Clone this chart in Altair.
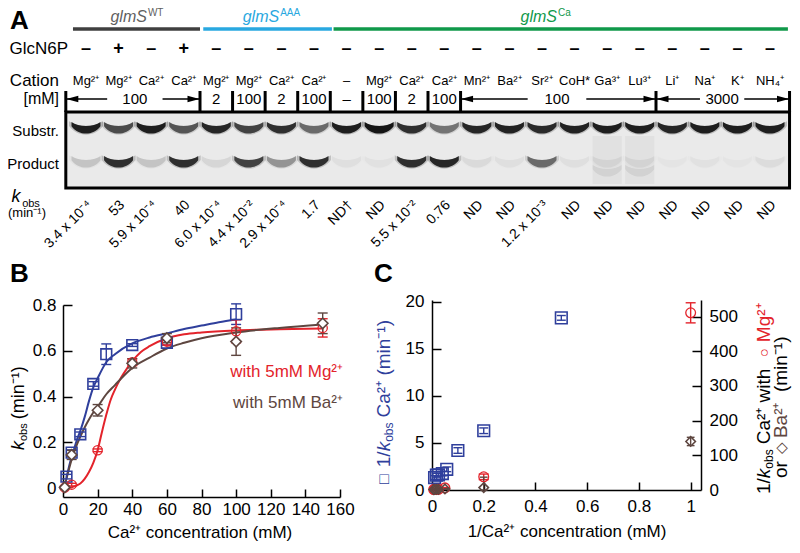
import altair as alt
import pandas as pd

W, H = 784, 537
FONT = "Liberation Sans"
BLUE = "#2f3f9c"
RED = "#e3232b"
BROWN = "#5e4640"
GREY_T = "#5f5f5f"
GREY_L = "#3f3f3f"
AAA = "#29a8e0"
GREEN = "#10994a"
NB = "\u00a0"

# ---------------- data : panel A (gel) ----------------
cations = ["Mg²⁺", "Mg²⁺", "Ca²⁺", "Ca²⁺", "Mg²⁺", "Mg²⁺", "Ca²⁺", "Ca²⁺", "–",
           "Mg²⁺", "Ca²⁺", "Ca²⁺", "Mn²⁺", "Ba²⁺", "Sr²⁺", "CoH*", "Ga³⁺", "Lu³⁺",
           "Li⁺", "Na⁺", "K⁺", "NH₄⁺"]
glcn6p = ["–", "+", "–", "+"] + ["–"] * 18
conc_lane = [4, 5, 6, 7, 8, 9, 10, 11]
conc_text = ["2", "100", "2", "100", "–", "100", "2", "100"]
span_text = ["100", "100", "3000"]
kobs = ["3.4 x 10⁻⁴", "53", "5.9 x 10⁻⁴", "40", "6.0 x 10⁻⁴", "4.4 x 10⁻²",
        "2.9 x 10⁻⁴", "1.7", "ND†", "ND", "5.5 x 10⁻²", "0.76", "ND", "ND",
        "1.2 x 10⁻³", "ND", "ND", "ND", "ND", "ND", "ND", "ND"]
substrate = [0.95, 0.7, 0.95, 0.65, 0.9, 0.75, 0.85, 0.55, 0.95, 1.0, 0.85,
             0.5, 0.9, 0.92, 0.88, 0.92, 0.95, 0.95, 0.9, 0.95, 0.95, 0.95]
product = [0.15, 0.85, 0.15, 0.85, 0.08, 0.75, 0.35, 0.85, 0.04, 0.03, 0.85,
           0.9, 0.06, 0.04, 0.55, 0.04, 0.05, 0.05, 0.02, 0.03, 0.02, 0.05]
smear_lane = [16, 17]
group_name = ["glmS", "glmS", "glmS"]
group_sup = ["WT", "AAA", "Ca"]

# ---------------- data : panel B ----------------
ca_blue = [2, 5, 10, 17.5, 25, 40, 60, 100]
k_blue = [0.05, 0.155, 0.235, 0.455, 0.585, 0.625, 0.635, 0.76]
e_blue = [0.01, 0.012, 0.01, 0.01, 0.045, 0.006, 0.01, 0.045]
ca_mg = [1, 5, 20, 40, 60, 100, 150]
k_mg = [0.002, 0.015, 0.165, 0.55, 0.64, 0.685, 0.70]
e_mg = [0.005, 0.006, 0.006, 0.015, 0.015, 0.05, 0.04]
ca_ba = [1, 5, 20, 40, 60, 100, 150]
k_ba = [0.003, 0.145, 0.34, 0.545, 0.655, 0.64, 0.72]
e_ba = [0.005, 0.02, 0.025, 0.02, 0.02, 0.06, 0.045]

fit_blue_x = [2, 4, 6, 8, 10, 12.5, 15, 17.5, 20, 25, 30, 40, 50, 60, 70, 80, 90, 100]
fit_blue_y = [0.045, 0.11, 0.16, 0.21, 0.25, 0.31, 0.38, 0.44, 0.48, 0.55, 0.585,
              0.632, 0.658, 0.676, 0.695, 0.71, 0.725, 0.737]
fit_mg_x = [1, 5, 8, 10, 12.5, 15, 17.5, 20, 22.5, 25, 27.5, 30, 33, 35, 40, 45, 50,
            60, 70, 80, 100, 125, 150]
fit_mg_y = [0.0, 0.004, 0.012, 0.02, 0.04, 0.07, 0.11, 0.165, 0.245, 0.32, 0.385,
            0.43, 0.475, 0.50, 0.555, 0.595, 0.62, 0.655, 0.672, 0.68, 0.689,
            0.694, 0.697]
fit_ba_x = [1, 3, 5, 7.5, 10, 12.5, 15, 17.5, 20, 25, 30, 35, 40, 50, 60, 70, 80,
            100, 125, 150]
fit_ba_y = [0.01, 0.07, 0.125, 0.18, 0.225, 0.265, 0.30, 0.33, 0.355, 0.41, 0.45,
            0.49, 0.525, 0.57, 0.61, 0.635, 0.655, 0.68, 0.70, 0.715]

# ---------------- data : panel C ----------------
cx_blue = [0.5, 0.2, 0.1, 0.057, 0.04, 0.025, 0.017, 0.01]
cy_blue = [18.3, 6.3, 4.2, 2.2, 1.75, 1.6, 1.57, 1.32]
ce_blue = [0.25, 0.3, 0.3, 0.25, 0.25, 0.2, 0.2, 0.2]
cx_mg = [1.0, 0.2, 0.05, 0.025, 0.017, 0.01, 0.0067]
cy_mg = [511, 38, 6.1, 1.8, 1.56, 1.46, 1.43]
ce_mg = [29, 8, 1, 0.5, 0.5, 0.5, 0.5]
cx_ba = [1.0, 0.2, 0.05, 0.025, 0.017, 0.01, 0.0067]
cy_ba = [140, 7, 2.9, 1.8, 1.5, 1.56, 1.39]
ce_ba = [12, 30, 1, 0.5, 0.5, 0.5, 0.5]

# ---------------- layout (chart pixels) ----------------
Y_GTITLE, Y_GSUP, Y_GLINE = 9, 5, 21
Y_GLC, Y_CAT, Y_CONC = 41, 73, 91
Y_SEP0, Y_SEP1 = 83, 104
Y_GEL0, Y_GEL1 = 104, 180
Y_SUB, Y_PROD, Y_KOBS = 119, 153, 195
GEL_X0, GEL_X1 = -0.62, 21.6
G_JOIN = [1.87, 5.93, 14.46]
G_FROM = [-0.4, 3.6, 7.6]
G_TO = [3.5, 7.55, 21.55]
G_LINE_COL = [GREY_L, AAA, GREEN]
G_TEXT_COL = [GREY_T, AAA, GREEN]
SPAN_START = [-0.62, 11.5, 17.5]
SPAN_END = [3.5, 17.5, 21.6]
SPAN_MID = [1.5, 14.46, 19.53]
SPAN_GAP = [0.85, 0.9, 0.68]
SEPARATORS = [-0.62, 3.5, 4.5, 5.5, 6.5, 7.5, 8.5, 9.5, 10.5, 11.5, 17.5, 21.6]

PX = alt.Scale(domain=[0, W], range=[0, W], nice=False, zero=False)
PY = alt.Scale(domain=[0, H], range=[0, H], nice=False, zero=False)
LX = alt.Scale(domain=[0, 21], range=[78, 762], nice=False, zero=False)
BX = alt.Scale(domain=[0, 160], range=[55, 332], nice=False, zero=False)
BY = alt.Scale(domain=[-0.039, 0.8], range=[489, 297], nice=False, zero=False)
CX = alt.Scale(domain=[0, 1.04], range=[424, 693], nice=False, zero=False)
CYL = alt.Scale(domain=[0, 20.2], range=[482, 292], nice=False, zero=False)
CYR = alt.Scale(domain=[0, 548], range=[482, 292], nice=False, zero=False)

BAND = "M-1,-0.34 C-0.5,0.02 0.5,0.02 1,-0.34 L1,-0.06 C0.5,0.62 -0.5,0.62 -1,-0.06 Z"
ARROW_L = "M-1,0 L1,-0.55 L1,0.55 Z"
ARROW_R = "M1,0 L-1,-0.55 L-1,0.55 Z"

CW = {' ': 0.278, NB: 0.278, '(': 0.333, ')': 0.333, '/': 0.278, 'k': 0.5, 'o': 0.556,
      'b': 0.556, 's': 0.5, 'C': 0.722, 'a': 0.556, 'm': 0.833, 'i': 0.222,
      'n': 0.556, 'w': 0.722, 't': 0.278, 'h': 0.556, 'M': 0.833, 'g': 0.556,
      'B': 0.667, 'r': 0.333, '²': 0.333, '¹': 0.333, '⁺': 0.55, '⁻': 0.55,
      '□': 0.8, '○': 0.8, '◇': 0.8}


def text_w(s, size):
    return sum(CW.get(ch, 0.556) for ch in s) * size


def TXT(xv, yv, tv, xs=PX, ys=PY, size=17, color="black", align="center",
        baseline="middle", angle=None, italic=False, bold=False):
    df = pd.DataFrame({"x": xv, "y": yv, "t": tv})
    kw = dict(font=FONT, fontSize=size, align=align, baseline=baseline)
    if italic:
        kw["fontStyle"] = "italic"
    if bold:
        kw["fontWeight"] = "bold"
    if angle is not None:
        kw["angle"] = angle
    enc = dict(x=alt.X("x:Q", scale=xs, axis=None),
               y=alt.Y("y:Q", scale=ys, axis=None), text="t:N")
    if isinstance(color, list):
        df["c"] = color
        enc["color"] = alt.Color("c:N", scale=None)
    else:
        kw["color"] = color
    return alt.Chart(df).mark_text(**kw).encode(**enc)


def rot_chain(x0, y0, pieces):
    """pieces: (text, size, colour, italic, shift_right, extra_gap_after)"""
    out = []
    y = y0
    for t, size, color, italic, shift, gap in pieces:
        out.append(TXT([x0 + shift], [y], [t], size=size, color=color,
                       align="left", angle=270, italic=italic))
        y -= text_w(t, size) + gap
    return out


def XY(df, xs, ys, x="x", y="y"):
    return dict(x=alt.X(f"{x}:Q", scale=xs, axis=None),
                y=alt.Y(f"{y}:Q", scale=ys, axis=None))


def lab_axis(orient, offset, values, fmt, pad):
    return alt.Axis(orient=orient, offset=offset, values=values, format=fmt,
                    ticks=False, labelPadding=pad, domain=True, domainColor="black",
                    domainWidth=1.5, labelFontSize=17, labelFont=FONT,
                    labelColor="black", title=None, grid=False, labelFlush=False,
                    labelOverlap=False)


def tick_axis(orient, offset, values, size):
    return alt.Axis(orient=orient, offset=offset, values=values, ticks=True,
                    tickSize=size, tickWidth=1.5, tickColor="black", labels=False,
                    domain=False, title=None, grid=False)


def axis_layer(xs, ys, xaxis, yaxis, xv, yv):
    df = pd.DataFrame({"x": [xv], "y": [yv]})
    return alt.Chart(df).mark_point(opacity=0).encode(
        x=alt.X("x:Q", scale=xs, axis=xaxis), y=alt.Y("y:Q", scale=ys, axis=yaxis))


def errorbars(xv, yv, ev, xs, ys, color, cap=100, lo_clip=None):
    lo = [v - e for v, e in zip(yv, ev)]
    if lo_clip is not None:
        lo = [max(lo_clip, v) for v in lo]
    hi = [v + e for v, e in zip(yv, ev)]
    df = pd.DataFrame({"x": xv, "lo": lo, "hi": hi})
    rule = alt.Chart(df).mark_rule(color=color, strokeWidth=1.4).encode(
        x=alt.X("x:Q", scale=xs, axis=None), y=alt.Y("lo:Q", scale=ys, axis=None),
        y2="hi:Q")
    dfc = pd.DataFrame({"x": xv + xv, "y": lo + hi})
    caps = alt.Chart(dfc).mark_point(shape="stroke", size=cap, color=color,
                                      strokeWidth=1.4, opacity=1).encode(**XY(dfc, xs, ys))
    return [rule, caps]


L = []
lanes = list(range(22))

# ================= PANEL A =================
L.append(TXT([2], [13], ["A"], size=26, bold=True, align="left"))
df = pd.DataFrame({"x": G_FROM, "x2": G_TO, "y": [Y_GLINE] * 3, "c": G_LINE_COL})
L.append(alt.Chart(df).mark_rule(strokeWidth=3.5).encode(
    x=alt.X("x:Q", scale=LX, axis=None), x2="x2:Q",
    y=alt.Y("y:Q", scale=PY, axis=None), color=alt.Color("c:N", scale=None)))
L.append(TXT(G_JOIN, [Y_GTITLE] * 3, group_name, xs=LX, size=16, color=G_TEXT_COL,
             align="right", italic=True))
L.append(TXT([j + 0.03 for j in G_JOIN], [Y_GSUP] * 3, group_sup, xs=LX, size=10,
             color=G_TEXT_COL, align="left"))

L.append(TXT(lanes, [Y_GLC] * 22, glcn6p, xs=LX, size=18, bold=True))
L.append(TXT([60], [Y_GLC], ["GlcN6P"], size=17, align="right"))
L.append(TXT(lanes, [Y_CAT] * 22, cations, xs=LX, size=13))
L.append(TXT([51], [Y_CAT], ["Cation"], size=17, align="right"))
L.append(TXT([51], [Y_CONC], ["[mM]"], size=16, align="right"))
L.append(TXT(conc_lane, [Y_CONC] * len(conc_lane), conc_text, xs=LX, size=15))
L.append(TXT(SPAN_MID, [Y_CONC] * 3, span_text, xs=LX, size=15))

seg_x, seg_x2 = [], []
for s, e, m, g in zip(SPAN_START, SPAN_END, SPAN_MID, SPAN_GAP):
    seg_x += [s, m + g]
    seg_x2 += [m - g, e]
df = pd.DataFrame({"x": seg_x, "x2": seg_x2, "y": [Y_CONC] * len(seg_x)})
L.append(alt.Chart(df).mark_rule(strokeWidth=1.5, color="black").encode(
    x=alt.X("x:Q", scale=LX, axis=None), x2="x2:Q", y=alt.Y("y:Q", scale=PY, axis=None)))
df = pd.DataFrame({"x": [s + 0.2 for s in SPAN_START], "y": [Y_CONC] * 3})
L.append(alt.Chart(df).mark_point(shape=ARROW_L, filled=True, color="black", size=144,
                                  opacity=1).encode(**XY(df, LX, PY)))
df = pd.DataFrame({"x": [e - 0.2 for e in SPAN_END], "y": [Y_CONC] * 3})
L.append(alt.Chart(df).mark_point(shape=ARROW_R, filled=True, color="black", size=144,
                                  opacity=1).encode(**XY(df, LX, PY)))

# gel
df = pd.DataFrame({"x": [GEL_X0], "x2": [GEL_X1], "y": [Y_GEL0], "y2": [Y_GEL1]})
L.append(alt.Chart(df).mark_rect(fill="#eaeaea", stroke="black", strokeWidth=3).encode(
    x=alt.X("x:Q", scale=LX, axis=None), x2="x2:Q",
    y=alt.Y("y:Q", scale=PY, axis=None), y2="y2:Q"))
df = pd.DataFrame({"x": [l - 0.45 for l in smear_lane], "x2": [l + 0.45 for l in smear_lane],
                   "y": [Y_SUB + 9] * 2, "y2": [Y_GEL1 - 4] * 2})
L.append(alt.Chart(df).mark_rect(fill="black", opacity=0.035).encode(
    x=alt.X("x:Q", scale=LX, axis=None), x2="x2:Q",
    y=alt.Y("y:Q", scale=PY, axis=None), y2="y2:Q"))
df = pd.DataFrame({"x": smear_lane, "y": [Y_PROD + 9] * 2, "o": [0.07, 0.07]})
L.append(alt.Chart(df).mark_point(shape=BAND, filled=True, color="#151515", size=841).encode(
    **XY(df, LX, PY), opacity=alt.Opacity("o:Q", scale=None)))

band_df = pd.DataFrame({"x": lanes + lanes, "y": [Y_SUB] * 22 + [Y_PROD] * 22,
                        "o": substrate + product})
band_df["o2"] = band_df["o"] * 0.22
L.append(alt.Chart(band_df).mark_point(shape=BAND, filled=True, color="#151515",
                                       size=1150).encode(
    **XY(band_df, LX, PY), opacity=alt.Opacity("o2:Q", scale=None)))
L.append(alt.Chart(band_df).mark_point(shape=BAND, filled=True, color="#151515",
                                       size=841).encode(
    **XY(band_df, LX, PY), opacity=alt.Opacity("o:Q", scale=None)))

df = pd.DataFrame({"x": SEPARATORS, "y": [Y_SEP0] * len(SEPARATORS),
                   "y2": [Y_SEP1] * len(SEPARATORS)})
L.append(alt.Chart(df).mark_rule(strokeWidth=3, color="black").encode(
    x=alt.X("x:Q", scale=LX, axis=None), y=alt.Y("y:Q", scale=PY, axis=None), y2="y2:Q"))

L.append(TXT([51, 51], [123, 156], ["Substr.", "Product"], size=15, align="right"))
L.append(TXT([l + 0.12 for l in lanes], [Y_KOBS] * 22, kobs, xs=LX, size=14,
             align="right", angle=315))
L.append(TXT([8], [189], ["k"], size=18, italic=True))
L.append(TXT([23], [196], ["obs"], size=11))
L.append(TXT([19], [205], ["(min⁻¹)"], size=13))

# ================= PANEL B =================
L.append(TXT([2], [266], ["B"], size=26, bold=True, align="left"))
L.append(axis_layer(BX, BY, lab_axis("bottom", 489 - H, list(range(0, 161, 20)), "d", 4),
                    lab_axis("left", -55, [0, 0.2, 0.4, 0.6, 0.8], ".1~f", 7), 0, 0))
L.append(axis_layer(BX, BY, tick_axis("top", -489, list(range(20, 161, 20)), 8),
                    tick_axis("right", 55 - W, [0.2, 0.4, 0.6, 0.8], 9), 0, 0))
for fx, fy, col in [(fit_blue_x, fit_blue_y, BLUE), (fit_mg_x, fit_mg_y, RED),
                    (fit_ba_x, fit_ba_y, BROWN)]:
    df = pd.DataFrame({"x": fx, "y": fy})
    L.append(alt.Chart(df).mark_line(interpolate="monotone", color=col,
                                     strokeWidth=2).encode(**XY(df, BX, BY)))
L += errorbars(ca_blue, k_blue, e_blue, BX, BY, BLUE)
L += errorbars(ca_mg, k_mg, e_mg, BX, BY, RED)
L += errorbars(ca_ba, k_ba, e_ba, BX, BY, BROWN)
df = pd.DataFrame({"x": ca_blue, "y": k_blue})
L.append(alt.Chart(df).mark_point(shape="square", filled=False, color=BLUE, size=115,
                                  strokeWidth=1.6, opacity=1).encode(**XY(df, BX, BY)))
df = pd.DataFrame({"x": ca_mg, "y": k_mg})
L.append(alt.Chart(df).mark_point(shape="circle", filled=False, color=RED, size=85,
                                  strokeWidth=1.3, opacity=1).encode(**XY(df, BX, BY)))
df = pd.DataFrame({"x": ca_ba, "y": k_ba})
L.append(alt.Chart(df).mark_point(shape="diamond", filled=True, fill="white",
                                  stroke=BROWN, size=110, strokeWidth=1.6,
                                  opacity=1).encode(**XY(df, BX, BY)))
L.append(TXT([335], [364], ["with 5mM Mg²⁺"], size=17, color=RED, align="right"))
L.append(TXT([335], [395], ["with 5mM Ba²⁺"], size=17, color=BROWN, align="right"))
L.append(TXT([192], [525], ["Ca²⁺ concentration (mM)"], size=17))
L += rot_chain(11, 442, [("k", 18, "black", True, 0, 0),
                         ("obs", 11, "black", False, 5, 4),
                         ("(min⁻¹)", 18, "black", False, 0, 0)])

# ================= PANEL C =================
L.append(TXT([366], [266], ["C"], size=26, bold=True, align="left"))
L.append(axis_layer(CX, CYL, lab_axis("bottom", 482 - H, [0, 0.2, 0.4, 0.6, 0.8, 1], ".1~f", 8),
                    lab_axis("left", -424, [0, 5, 10, 15, 20], "d", 8), 0, 0))
L.append(axis_layer(CX, CYL, tick_axis("top", -482, [0.2, 0.4, 0.6, 0.8, 1], 8),
                    tick_axis("right", 424 - W, [5, 10, 15, 20], 9), 0, 0))
L.append(axis_layer(CX, CYR, None,
                    lab_axis("right", 693 - W, [0, 100, 200, 300, 400, 500], "d", 8), 0, 0))
L.append(axis_layer(CX, CYR, None,
                    tick_axis("left", -693, [100, 200, 300, 400, 500], 9), 0, 0))
L += errorbars(cx_blue, cy_blue, ce_blue, CX, CYL, BLUE, cap=80)
L += errorbars(cx_mg, cy_mg, ce_mg, CX, CYR, RED, cap=100, lo_clip=0)
L += errorbars(cx_ba, cy_ba, ce_ba, CX, CYR, BROWN, cap=60, lo_clip=0)
df = pd.DataFrame({"x": cx_blue, "y": cy_blue})
L.append(alt.Chart(df).mark_point(shape="square", filled=False, color=BLUE, size=135,
                                  strokeWidth=1.6, opacity=1).encode(**XY(df, CX, CYL)))
df = pd.DataFrame({"x": cx_mg, "y": cy_mg})
L.append(alt.Chart(df).mark_point(shape="circle", filled=False, color=RED, size=95,
                                  strokeWidth=1.3, opacity=1).encode(**XY(df, CX, CYR)))
df = pd.DataFrame({"x": cx_ba, "y": cy_ba})
L.append(alt.Chart(df).mark_point(shape="diamond", filled=False, color=BROWN, size=90,
                                  strokeWidth=1.6, opacity=1).encode(**XY(df, CX, CYR)))
L.append(TXT([559], [524], ["1/Ca²⁺ concentration (mM)"], size=17))
L += rot_chain(376, 476, [("□", 16, BLUE, False, 0, 4), ("1/", 19, BLUE, False, 0, 0),
                          ("k", 19, BLUE, True, 0, 0), ("obs", 12, BLUE, False, 5, 5),
                          ("Ca²⁺" + NB + "(min⁻¹)", 19, BLUE, False, 0, 0)])
L += rot_chain(756, 486, [("1/", 19, "black", False, 0, 0), ("k", 19, "black", True, 0, 0),
                          ("obs", 12, "black", False, 5, 5),
                          ("Ca²⁺" + NB + "with", 19, "black", False, 0, 7),
                          ("○", 15, RED, False, 0, 3), ("Mg²⁺", 19, RED, False, 0, 0)])
L += rot_chain(773, 470, [("or", 19, "black", False, 0, 7), ("◇", 15, BROWN, False, 0, 4),
                          ("Ba²⁺", 19, BROWN, False, 0, 6),
                          ("(min⁻¹)", 19, "black", False, 0, 0)])

chart = alt.layer(*L).resolve_scale(x="independent", y="independent").properties(
    width=W, height=H, padding=0, autosize=alt.AutoSizeParams(type="none")
).configure_view(stroke=None).configure_axis(grid=False, labelFont=FONT)

chart.save("out.html", embed_options={"renderer": "svg", "actions": False})
